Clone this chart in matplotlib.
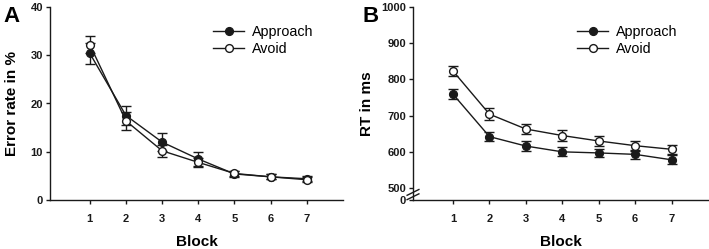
import matplotlib
matplotlib.use("Agg")
import matplotlib.pyplot as plt
from matplotlib.lines import Line2D
import numpy as np

blocks = [1, 2, 3, 4, 5, 6, 7]

err_approach = [30.4, 17.5, 12.0, 8.5, 5.4, 4.8, 4.4]
err_approach_se = [2.2, 2.0, 1.8, 1.5, 0.6, 0.5, 0.5]
err_avoid = [32.2, 16.4, 10.2, 7.8, 5.5, 4.8, 4.2]
err_avoid_se = [1.7, 1.9, 1.3, 1.0, 0.6, 0.5, 0.5]

rt_approach = [759, 642, 616, 600, 597, 593, 578]
rt_approach_se = [14, 13, 13, 12, 12, 13, 12]
rt_avoid = [823, 704, 663, 645, 630, 617, 607]
rt_avoid_se = [14, 17, 15, 15, 14, 14, 13]

plt.rcParams['font.family'] = ['Liberation Sans', 'DejaVu Sans']

W, H = 709, 249
fig = plt.figure(figsize=(W / 100, H / 100), dpi=100)

col = '#1a1a1a'
MS = 5.6

def px_axes(l, r, t, b):
    return fig.add_axes([l / W, (H - b) / H, (r - l) / W, (b - t) / H])

axA = px_axes(50, 343, 7, 200)
axB = px_axes(413, 708, 7, 200)

def draw(ax, y1, e1, y2, e2):
    kw = dict(color=col, lw=1.0, capsize=3.6, capthick=1.0, elinewidth=1.0,
              markersize=MS, markeredgecolor=col, markeredgewidth=1.0)
    ax.errorbar(blocks, y1, yerr=e1, fmt='-o', markerfacecolor=col,
                zorder=3, **kw)
    ax.errorbar(blocks, y2, yerr=e2, fmt='-o', markerfacecolor='white',
                zorder=4, **kw)
    for s in ['top', 'right']:
        ax.spines[s].set_visible(False)
    for s in ['left', 'bottom']:
        ax.spines[s].set_linewidth(1.0)
        ax.spines[s].set_color(col)
    ax.set_xlim(-0.1, 8.0)
    ax.set_xticks(blocks)
    ax.tick_params(axis='both', direction='out', length=3, width=1.0, colors=col,
                   labelsize=8)
    ax.tick_params(axis='x', pad=7)
    ax.tick_params(axis='y', pad=2)
    for lab in ax.get_xticklabels() + ax.get_yticklabels():
        lab.set_fontweight('bold')
    ax.set_xlabel('Block', fontsize=11, fontweight='bold', labelpad=8)
    handles = [
        Line2D([], [], color=col, lw=1.0, marker='o', markersize=MS,
               markerfacecolor=col, markeredgecolor=col),
        Line2D([], [], color=col, lw=1.0, marker='o', markersize=MS,
               markerfacecolor='white', markeredgecolor=col),
    ]
    ax.legend(handles, ['Approach', 'Avoid'], loc='upper left',
              bbox_to_anchor=(0.556, 0.905), frameon=False,
              borderpad=0, borderaxespad=0, handlelength=2.2,
              handletextpad=0.5, labelspacing=0.2, fontsize=10.3)

draw(axA, err_approach, err_approach_se, err_avoid, err_avoid_se)
axA.set_ylim(0, 40)
axA.set_yticks([0, 10, 20, 30, 40])
for lab in axA.get_yticklabels():
    lab.set_fontweight('bold')
axA.set_ylabel('Error rate in %', fontsize=11, fontweight='bold', labelpad=8)

draw(axB, rt_approach, rt_approach_se, rt_avoid, rt_avoid_se)
bottom_val = 467
axB.set_ylim(bottom_val, 1000)
axB.set_yticks([bottom_val, 500, 600, 700, 800, 900, 1000])
axB.set_yticklabels(['0', '500', '600', '700', '800', '900', '1000'])
for lab in axB.get_yticklabels():
    lab.set_fontweight('bold')
axB.set_ylabel('RT in ms', fontsize=11, fontweight='bold', labelpad=5)

# axis break marks
tr = axB.get_yaxis_transform()
for yv in (476, 488):
    axB.plot([-0.02, 0.02], [yv - 8, yv + 8], transform=tr, color=col, lw=1.0,
             clip_on=False, zorder=5)

fig.text(3 / W, 1 - 16 / H, 'A', fontsize=16, fontweight='bold', va='center', ha='left')
fig.text(362 / W, 1 - 16 / H, 'B', fontsize=16, fontweight='bold', va='center', ha='left')

fig.savefig('out.png', dpi=100)
